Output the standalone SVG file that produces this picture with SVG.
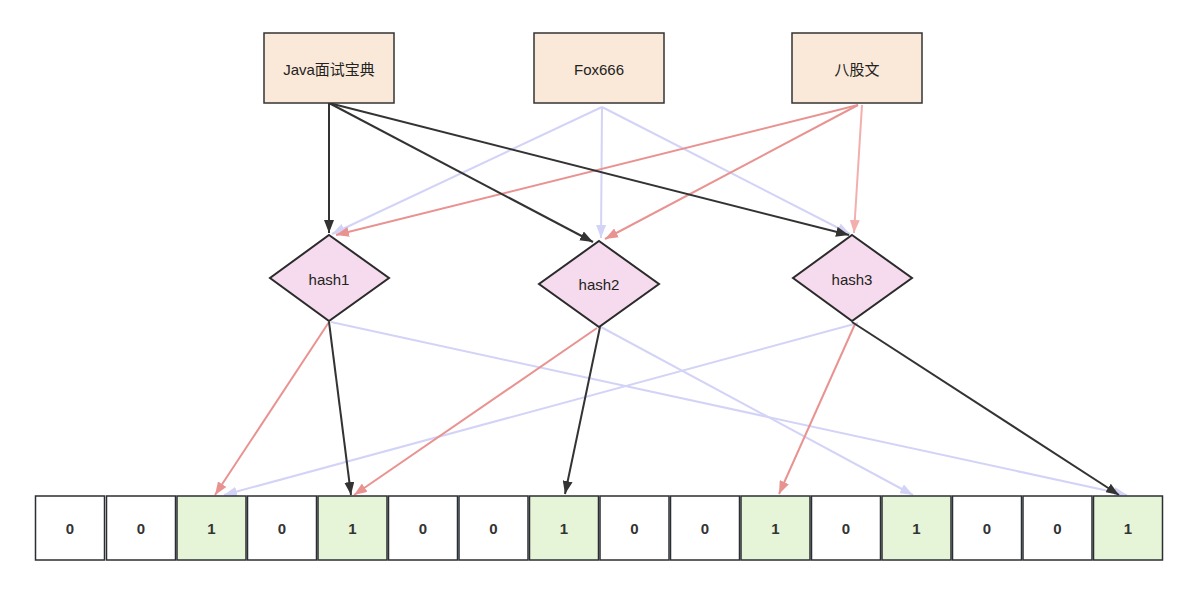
<svg xmlns="http://www.w3.org/2000/svg" width="1188" height="591" viewBox="0 0 1188 591">
<style>
.box{fill:#fae9d8;stroke:#333;stroke-width:1.5}
.dia{fill:#f6dbee;stroke:#2b2b2b;stroke-width:2}
.cell{fill:#ffffff;stroke:#2b2f33;stroke-width:1.5}
.on{fill:#e6f4d8}
.lbl{font-family:"Liberation Sans","Noto Sans CJK SC",sans-serif;font-size:15px;fill:#222;text-anchor:middle;dominant-baseline:central}
.num{font-family:"Liberation Sans",sans-serif;font-size:15px;font-weight:bold;fill:#333;text-anchor:middle;dominant-baseline:central}
.k{stroke:#333;stroke-width:2;fill:none;marker-end:url(#ak)}
.v{stroke:#d3d3f7;stroke-width:2;fill:none;marker-end:url(#av)}
.r{stroke:#e99391;stroke-width:2;fill:none;marker-end:url(#ar)}
.p{stroke:#f3afad;stroke-width:2;fill:none;marker-end:url(#ap)}
</style>
<defs>
<marker id="ak" viewBox="0 0 13 10" refX="13" refY="5" markerWidth="13" markerHeight="10" markerUnits="userSpaceOnUse" orient="auto"><path d="M0,0 L13,5 L0,10 z" fill="#333"/></marker>
<marker id="av" viewBox="0 0 13 10" refX="13" refY="5" markerWidth="13" markerHeight="10" markerUnits="userSpaceOnUse" orient="auto"><path d="M0,0 L13,5 L0,10 z" fill="#d3d3f7"/></marker>
<marker id="ar" viewBox="0 0 13 10" refX="13" refY="5" markerWidth="13" markerHeight="10" markerUnits="userSpaceOnUse" orient="auto"><path d="M0,0 L13,5 L0,10 z" fill="#e99391"/></marker>
<marker id="ap" viewBox="0 0 13 10" refX="13" refY="5" markerWidth="13" markerHeight="10" markerUnits="userSpaceOnUse" orient="auto"><path d="M0,0 L13,5 L0,10 z" fill="#f3afad"/></marker>
</defs>
<rect width="1188" height="591" fill="#ffffff"/>
<g id="connectors">
<line class="v" x1="602" y1="107" x2="332" y2="234"/>
<line class="v" x1="602" y1="107" x2="601" y2="238"/>
<line class="v" x1="602" y1="107" x2="850" y2="234"/>
<line class="r" x1="858" y1="105" x2="336" y2="235"/>
<line class="r" x1="858" y1="105" x2="605" y2="239"/>
<line class="p" x1="862" y1="105" x2="854" y2="233"/>
<line class="k" x1="329" y1="103" x2="329" y2="233"/>
<line class="k" x1="329" y1="103" x2="593" y2="242"/>
<line class="k" x1="329" y1="103" x2="849" y2="235"/>
<line class="v" x1="331" y1="322" x2="1127" y2="495"/>
<line class="v" x1="601" y1="327" x2="913" y2="495"/>
<line class="v" x1="858" y1="323" x2="224" y2="495"/>
<line class="r" x1="329" y1="322" x2="215" y2="495"/>
<line class="r" x1="597" y1="328" x2="354" y2="495"/>
<line class="r" x1="855" y1="324" x2="779" y2="494"/>
<line class="k" x1="329" y1="322" x2="351" y2="495"/>
<line class="k" x1="600" y1="327" x2="565" y2="494"/>
<line class="k" x1="852" y1="322" x2="1119" y2="495"/>
</g>
<g id="node-java"><rect class="box" x="264" y="33" width="130" height="70"/><text class="lbl" x="329" y="69">Java面试宝典</text></g>
<g id="node-fox"><rect class="box" x="534" y="33" width="130" height="70"/><text class="lbl" x="599" y="69">Fox666</text></g>
<g id="node-bagu"><rect class="box" x="792" y="33" width="130" height="70"/><text class="lbl" x="857" y="69">八股文</text></g>
<g id="node-hash1"><polygon class="dia" points="329,235 389,278 329,321 270,278"/><text class="lbl" x="329" y="279">hash1</text></g>
<g id="node-hash2"><polygon class="dia" points="599,241 659,284 599,327 539,284"/><text class="lbl" x="599" y="284">hash2</text></g>
<g id="node-hash3"><polygon class="dia" points="852,235 912,278 852,321 793,278"/><text class="lbl" x="852" y="279">hash3</text></g>
<g id="bits">
<g id="bit0"><rect class="cell" x="35.5" y="496" width="69" height="64"/><text class="num" x="70" y="528">0</text></g>
<g id="bit1"><rect class="cell" x="106.5" y="496" width="69" height="64"/><text class="num" x="141" y="528">0</text></g>
<g id="bit2"><rect class="cell on" x="177" y="496" width="69" height="64"/><text class="num" x="211.5" y="528">1</text></g>
<g id="bit3"><rect class="cell" x="247.5" y="496" width="69" height="64"/><text class="num" x="282" y="528">0</text></g>
<g id="bit4"><rect class="cell on" x="318" y="496" width="69" height="64"/><text class="num" x="352.5" y="528">1</text></g>
<g id="bit5"><rect class="cell" x="388.5" y="496" width="69" height="64"/><text class="num" x="423" y="528">0</text></g>
<g id="bit6"><rect class="cell" x="459" y="496" width="69" height="64"/><text class="num" x="493.5" y="528">0</text></g>
<g id="bit7"><rect class="cell on" x="529.5" y="496" width="69" height="64"/><text class="num" x="564" y="528">1</text></g>
<g id="bit8"><rect class="cell" x="600" y="496" width="69" height="64"/><text class="num" x="634.5" y="528">0</text></g>
<g id="bit9"><rect class="cell" x="670.5" y="496" width="69" height="64"/><text class="num" x="705" y="528">0</text></g>
<g id="bit10"><rect class="cell on" x="741" y="496" width="69" height="64"/><text class="num" x="775.5" y="528">1</text></g>
<g id="bit11"><rect class="cell" x="811.5" y="496" width="69" height="64"/><text class="num" x="846" y="528">0</text></g>
<g id="bit12"><rect class="cell on" x="882" y="496" width="69" height="64"/><text class="num" x="916.5" y="528">1</text></g>
<g id="bit13"><rect class="cell" x="952.5" y="496" width="69" height="64"/><text class="num" x="987" y="528">0</text></g>
<g id="bit14"><rect class="cell" x="1023" y="496" width="69" height="64"/><text class="num" x="1057.5" y="528">0</text></g>
<g id="bit15"><rect class="cell on" x="1093.5" y="496" width="69" height="64"/><text class="num" x="1128" y="528">1</text></g>
</g>
</svg>
